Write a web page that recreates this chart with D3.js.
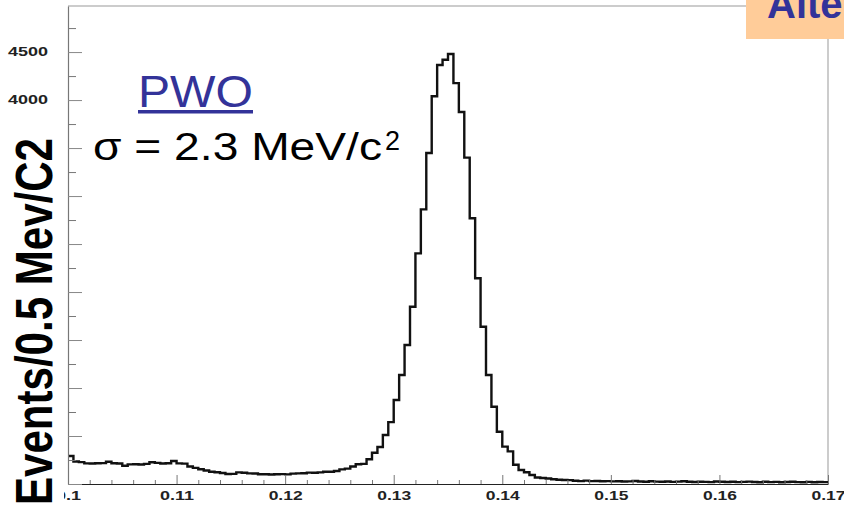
<!DOCTYPE html>
<html>
<head>
<meta charset="utf-8">
<script src="https://cdn.jsdelivr.net/npm/d3@7"></script>
<style>
  html, body { margin: 0; padding: 0; background: #fff; }
  svg { display: block; font-family: "Liberation Sans", Arial, Helvetica, sans-serif; }
</style>
</head>
<body>
<script>
// Events per 0.5 MeV bin, starting at 0.100 GeV/c2
const counts = [
  292, 235, 228, 215, 214, 216, 218, 232, 216, 213,
  190, 204, 206, 203, 210, 226, 220, 214, 216, 240,
  215, 212, 182, 168, 153, 140, 128, 122, 114, 104,
  106, 121, 117, 111, 110, 101, 102, 99, 101, 103,
  100, 108, 111, 112, 118, 117, 121, 127, 128, 135,
  152, 160, 182, 205, 210, 258, 326, 385, 510, 645,
  875, 1135, 1448, 1847, 2403, 2861, 3448, 4040, 4365, 4420,
  4480, 4177, 3876, 3400, 2768, 2143, 1639, 1135, 805, 545,
  389, 340, 200, 146, 122, 94, 68, 62, 58, 50,
  44, 42, 40, 34, 30, 35, 30, 32, 28, 30,
  27, 29, 26, 27, 31, 26, 24, 28, 25, 23,
  26, 22, 25, 29, 23, 21, 24, 22, 20, 26,
  23, 21, 24, 20, 22, 25, 21, 19, 23, 20,
  22, 18, 21, 24, 20, 19, 22, 18, 21, 20
];
const binStart = 0.1;
const binWidth = 0.0005;

const xMajorTicks = [0.1, 0.11, 0.12, 0.13, 0.14, 0.15, 0.16, 0.17];
const xTickLabels = ["0.1", "0.11", "0.12", "0.13", "0.14", "0.15", "0.16", "0.17"];
const xMinorTicks = [0.102, 0.104, 0.106, 0.108, 0.112, 0.114, 0.116, 0.118,
  0.122, 0.124, 0.126, 0.128, 0.132, 0.134, 0.136, 0.138, 0.142, 0.144, 0.146, 0.148,
  0.152, 0.154, 0.156, 0.158, 0.162, 0.164, 0.166, 0.168];
const yMajorTicks = [0, 500, 1000, 1500, 2000, 2500, 3000, 3500, 4000, 4500];
const yMinorTicks = [250, 750, 1250, 1750, 2250, 2750, 3250, 3750, 4250, 4750];
const yTickLabels = { 4000: "4000", 4500: "4500" };

const width = 844, height = 509;
const svg = d3.select("body").append("svg").attr("width", width).attr("height", height);

const x = d3.scaleLinear().domain([0.1, 0.17]).range([68, 828]);
const y = d3.scaleLinear().domain([0, 4980]).range([484, 6]);

// frame
svg.append("line").attr("x1", 68).attr("x2", 828).attr("y1", 6).attr("y2", 6)
  .attr("stroke", "#999").attr("stroke-width", 1);
svg.append("line").attr("x1", 828).attr("x2", 828).attr("y1", 6).attr("y2", 484)
  .attr("stroke", "#999").attr("stroke-width", 1);

// histogram
const pts = counts.map((c, i) => [binStart + i * binWidth, c]);
pts.push([binStart + counts.length * binWidth, counts[counts.length - 1]]);
const line = d3.line().x(d => x(d[0])).y(d => y(d[1])).curve(d3.curveStepAfter);
svg.append("path").datum(pts).attr("d", line)
  .attr("fill", "none").attr("stroke", "#111").attr("stroke-width", 2.4)
  .attr("stroke-linejoin", "miter");

// x axis
svg.append("g").attr("transform", "translate(0,484)")
  .call(d3.axisBottom(x).tickValues(xMinorTicks).tickSize(-4).tickSizeOuter(0).tickFormat(""))
  .call(g => g.select(".domain").remove())
  .selectAll("line").attr("stroke", "#777");
const xa = svg.append("g").attr("transform", "translate(0,484)")
  .call(d3.axisBottom(x).tickValues(xMajorTicks).tickSize(-9).tickSizeOuter(0).tickPadding(7)
    .tickFormat((d, i) => xTickLabels[i]));
xa.select(".domain").attr("stroke", "#222").attr("stroke-width", 1.2);
xa.selectAll("line").attr("stroke", "#777");
xa.selectAll("text").attr("fill", "#222").attr("font-size", 12).attr("font-weight", "bold")
  .attr("font-family", "'Liberation Sans', Arial, sans-serif")
  .attr("textLength", (d, i) => xTickLabels[i].length === 3 ? 25 : 34)
  .attr("lengthAdjust", "spacingAndGlyphs");

// y axis
svg.append("g").attr("transform", "translate(68,0)")
  .call(d3.axisLeft(y).tickValues(yMinorTicks).tickSize(-8).tickSizeOuter(0).tickFormat(""))
  .call(g => g.select(".domain").remove())
  .selectAll("line").attr("stroke", "#777");
const ya = svg.append("g").attr("transform", "translate(68,0)")
  .call(d3.axisLeft(y).tickValues(yMajorTicks).tickSize(-14).tickSizeOuter(0).tickPadding(20)
    .tickFormat(d => yTickLabels[d] || ""));
ya.select(".domain").attr("stroke", "#777").attr("stroke-width", 1.2);
ya.selectAll("line").attr("stroke", "#888");
ya.selectAll("text").attr("fill", "#222").attr("font-size", 12).attr("font-weight", "bold")
  .attr("font-family", "'Liberation Sans', Arial, sans-serif")
  .attr("textLength", d => yTickLabels[d] ? 40 : null)
  .attr("lengthAdjust", "spacingAndGlyphs");

// y title with its white backing
svg.append("rect").attr("x", 0).attr("y", 118).attr("width", 64).attr("height", height - 118)
  .attr("fill", "#fff");
svg.append("text")
  .attr("transform", "translate(52,505) rotate(-90)")
  .attr("font-size", 52).attr("font-weight", "bold").attr("fill", "#000")
  .attr("textLength", 367).attr("lengthAdjust", "spacingAndGlyphs")
  .text("Events/0.5 Mev/C2");

// annotations
svg.append("text").attr("x", 138).attr("y", 107)
  .attr("font-size", 44).attr("fill", "#333399")
  .attr("textLength", 115).attr("lengthAdjust", "spacingAndGlyphs")
  .text("PWO");
svg.append("rect").attr("x", 138).attr("y", 110).attr("width", 115).attr("height", 3.5)
  .attr("fill", "#333399");
svg.append("text").attr("x", 93).attr("y", 160)
  .attr("font-size", 39).attr("fill", "#000")
  .attr("textLength", 289).attr("lengthAdjust", "spacingAndGlyphs")
  .text("σ = 2.3 MeV/c");
svg.append("text").attr("x", 385).attr("y", 150)
  .attr("font-size", 27).attr("fill", "#000")
  .text("2");

// header box at the top right (its title runs past the page edge, as in the slide)
svg.append("rect").attr("x", 746).attr("y", 0).attr("width", 98).attr("height", 39)
  .attr("fill", "#FFCC99");
svg.append("text").attr("x", 767).attr("y", 18)
  .attr("font-size", 40).attr("font-weight", "bold").attr("fill", "#333399")
  .text("Alte");
</script>
</body>
</html>
